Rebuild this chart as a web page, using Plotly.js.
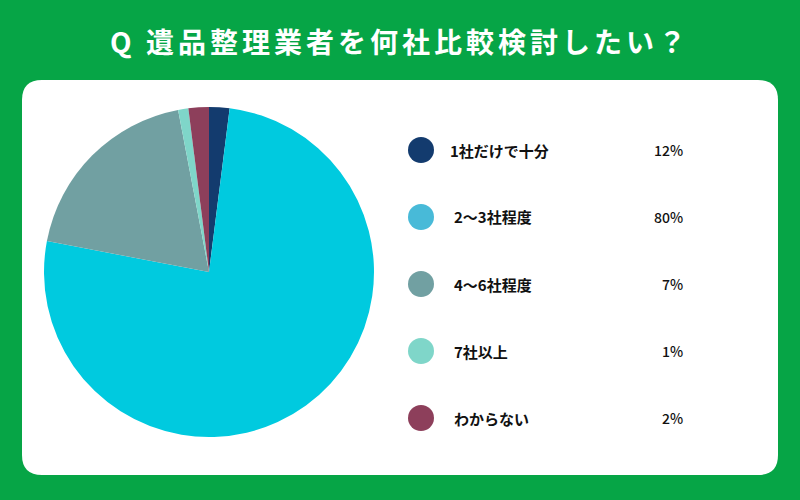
<!DOCTYPE html>
<html>
<head>
<meta charset="utf-8">
<script src="https://cdn.plot.ly/plotly-3.0.1.min.js"></script>
<style>
  html, body { margin: 0; padding: 0; background: #06a546; }
  #chart { width: 800px; height: 500px; }
  .gtitle { letter-spacing: 4px; }
</style>
</head>
<body>
<div id="chart"></div>
<script>
// categories and values
var labels = ["1社だけで十分", "2〜3社程度", "4〜6社程度", "7社以上", "わからない"];
var sliceValues = [2, 76, 19, 1, 2];            // slice sizes as drawn in the pie
var percentText = ["12%", "80%", "7%", "1%", "2%"]; // numbers printed in the legend
var sliceColors = ["#133b6e", "#00cadf", "#71a0a2", "#7fd6c9", "#8d3f5b"];
var keyColors = ["#133b6e", "#48bad8", "#71a0a2", "#7fd6c9", "#8d3f5b"];

var W = 800, H = 500;
var FONT = "Noto Sans CJK JP, Noto Sans, sans-serif";

function px(x) { return x / W; }
function py(y) { return 1 - y / H; }

// white card with rounded corners
function roundRect(x0, y0, x1, y1, r)
{
	var p = "M " + px(x0 + r) + " " + py(y0);
	p += " L " + px(x1 - r) + " " + py(y0);
	p += " Q " + px(x1) + " " + py(y0) + " " + px(x1) + " " + py(y0 + r);
	p += " L " + px(x1) + " " + py(y1 - r);
	p += " Q " + px(x1) + " " + py(y1) + " " + px(x1 - r) + " " + py(y1);
	p += " L " + px(x0 + r) + " " + py(y1);
	p += " Q " + px(x0) + " " + py(y1) + " " + px(x0) + " " + py(y1 - r);
	p += " L " + px(x0) + " " + py(y0 + r);
	p += " Q " + px(x0) + " " + py(y0) + " " + px(x0 + r) + " " + py(y0);
	p += " Z";
	return p;
}

var shapes = [{
	type: "path", xref: "paper", yref: "paper", layer: "below",
	path: roundRect(22, 80, 778, 475, 20),
	fillcolor: "#ffffff", line: { width: 0 }
}];
var annotations = [];

// legend rows
var rowTop = 150, rowGap = 67, keyR = 13;
for (var i = 0; i < labels.length; i++)
{
	var cy = rowTop + i * rowGap;
	shapes.push({
		type: "circle", xref: "paper", yref: "paper",
		x0: px(421 - keyR), x1: px(421 + keyR),
		y0: py(cy + keyR), y1: py(cy - keyR),
		fillcolor: keyColors[i], line: { width: 0 }
	});
	annotations.push({
		xref: "paper", yref: "paper", x: px(i == 0 ? 448 : 452), y: py(cy),
		xanchor: "left", yanchor: "middle", showarrow: false,
		text: "<b>" + labels[i] + "</b>",
		font: { family: FONT, size: 15, color: "#111111" }
	});
	annotations.push({
		xref: "paper", yref: "paper", x: px(685), y: py(cy),
		xanchor: "right", yanchor: "middle", showarrow: false,
		text: percentText[i],
		font: { family: FONT, size: 14, weight: 500, color: "#111111" }
	});
}

var trace = {
	type: "pie",
	labels: labels,
	values: sliceValues,
	sort: false,
	direction: "clockwise",
	rotation: 0,
	textinfo: "none",
	hoverinfo: "label+percent",
	showlegend: false,
	marker: { colors: sliceColors, line: { width: 0 } },
	domain: { x: [px(44), px(374)], y: [py(437), py(107)] }
};

var layout = {
	width: W, height: H,
	margin: { l: 0, r: 0, t: 0, b: 0 },
	paper_bgcolor: "#06a546",
	plot_bgcolor: "#06a546",
	title: {
		text: "<b>Q 遺品整理業者を何社比較検討したい？</b>",
		font: { family: FONT, size: 28, color: "#ffffff" },
		x: 0.5, xanchor: "center",
		y: py(43), yanchor: "middle"
	},
	shapes: shapes,
	annotations: annotations
};

Plotly.newPlot("chart", [trace], layout, { displayModeBar: false, staticPlot: true });
</script>
</body>
</html>
